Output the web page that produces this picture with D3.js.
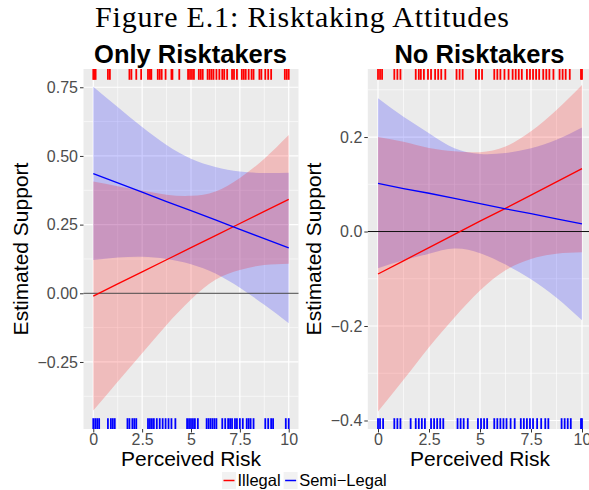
<!DOCTYPE html>
<html>
<head>
<meta charset="utf-8">
<script src="https://cdn.jsdelivr.net/npm/d3@7"></script>
<style>
  body { margin: 0; background: #fff; }
  svg { display: block; }
</style>
</head>
<body>
<svg id="chart" width="589" height="490"></svg>
<script>
var riskGrid = [0, 1.25, 2.5, 3.75, 5, 6.25, 7.5, 8.75, 10];

// Only Risktakers
var onlyIllegalFit  = [-0.010, 0.034, 0.078, 0.122, 0.166, 0.210, 0.254, 0.298, 0.342];
var onlyIllegalLow  = [-0.427, -0.322, -0.218, -0.115, -0.023, 0.049, 0.085, 0.103, 0.108];
var onlyIllegalHigh = [0.407, 0.390, 0.374, 0.359, 0.355, 0.371, 0.420, 0.490, 0.576];
var onlySemiFit  = [0.436, 0.402, 0.368, 0.334, 0.301, 0.267, 0.233, 0.199, 0.165];
var onlySemiLow  = [0.121, 0.130, 0.133, 0.125, 0.106, 0.072, 0.020, -0.042, -0.109];
var onlySemiHigh = [0.752, 0.678, 0.605, 0.540, 0.490, 0.460, 0.443, 0.438, 0.439];

// No Risktakers
var noIllegalFit  = [-0.090, -0.062, -0.034, -0.006, 0.022, 0.049, 0.077, 0.105, 0.133];
var noIllegalLow  = [-0.381, -0.314, -0.245, -0.182, -0.125, -0.082, -0.058, -0.047, -0.044];
var noIllegalHigh = [0.200, 0.190, 0.177, 0.170, 0.168, 0.180, 0.212, 0.257, 0.310];
var noSemiFit  = [0.102, 0.091, 0.081, 0.070, 0.059, 0.048, 0.038, 0.027, 0.016];
var noSemiLow  = [-0.078, -0.061, -0.047, -0.036, -0.046, -0.070, -0.101, -0.140, -0.188];
var noSemiHigh = [0.282, 0.243, 0.208, 0.176, 0.164, 0.166, 0.176, 0.194, 0.220];

// rug marks (observed perceived risk)
var onlyIllegalRug = [0, 0.05, 0.12, 0.75, 0.85, 1.85, 1.95, 2.2, 2.45, 2.8, 2.9, 2.97, 3.3, 3.4, 3.5, 3.7,
  4.0, 4.05, 4.4, 4.85, 4.95, 5.05, 5.15, 5.4, 5.5, 5.6, 5.85, 5.95, 6.05, 6.15, 6.3, 6.45, 6.6, 6.7, 6.85,
  7.1, 7.2, 7.35, 7.6, 7.7, 7.8, 7.95, 8.1, 8.2, 8.5, 8.6, 8.8, 8.95, 9.1, 9.8, 9.9, 10];
var onlySemiRug = [0, 0.1, 0.2, 0.3, 0.75, 0.9, 1.0, 1.1, 1.75, 1.85, 2.0, 2.1, 2.2, 2.8, 2.9, 3.0, 3.1, 3.25,
  3.4, 3.55, 3.7, 3.85, 4.0, 4.2, 4.8, 4.9, 5.0, 5.1, 5.2, 5.35, 5.8, 5.9, 6.0, 6.1, 6.2, 6.3, 6.6, 6.75,
  6.9, 7.0, 7.1, 7.25, 7.35, 7.5, 7.65, 7.85, 7.95, 8.05, 8.2, 8.8, 8.95, 9.1, 9.2, 9.85, 10];
var noIllegalRug = [0, 0.1, 0.2, 0.8, 0.95, 1.1, 1.85, 2.0, 2.1, 2.25, 2.45, 2.6, 2.8, 2.95, 3.1, 3.3,
  3.85, 4.0, 4.15, 4.8, 4.95, 5.1, 5.7, 5.85, 6.0, 6.2, 6.4, 6.6, 6.75, 6.9, 7.05, 7.3, 7.45, 7.6, 7.75,
  7.9, 8.1, 8.25, 8.4, 8.6, 8.9, 9.05, 9.2, 9.4, 9.95, 10];
var noSemiRug = [0, 0.1, 0.25, 0.8, 0.95, 1.1, 1.6, 1.85, 2.0, 2.15, 2.3, 2.6, 2.75, 2.9, 3.05, 3.2,
  3.9, 4.05, 4.2, 4.4, 4.9, 5.05, 5.2, 5.35, 5.7, 5.85, 6.0, 6.15, 6.3, 6.5, 6.7, 7.0, 7.15, 7.3, 7.45,
  7.6, 7.8, 8.0, 8.2, 8.35, 9.0, 9.15, 9.3, 9.45, 9.95, 10];

var xTicks = [0, 2.5, 5, 7.5, 10];
var xTickLabels = ["0", "2.5", "5", "7.5", "10"];
var onlyYTicks = [-0.25, 0, 0.25, 0.5, 0.75];
var onlyYTickLabels = ["\u22120.25", "0.00", "0.25", "0.50", "0.75"];
var noYTicks = [-0.4, -0.2, 0, 0.2];
var noYTickLabels = ["\u22120.4", "\u22120.2", "0.0", "0.2"];

var seriesNames = ["Illegal", "Semi\u2212Legal"];
var seriesColors = ["#ff0000", "#0000ff"];

var svg = d3.select("#chart");
svg.append("rect").attr("width", 589).attr("height", 490).attr("fill", "#fff");

// main title
svg.append("text")
  .attr("x", 302).attr("y", 27)
  .attr("text-anchor", "middle")
  .attr("textLength", 414).attr("lengthAdjust", "spacing")
  .style("font-family", "'Liberation Serif', serif")
  .style("font-size", "30px")
  .text("Figure E.1: Risktaking Attitudes");

var panels = [
  { title: "Only Risktakers", x0: 83.5, x1: 298.5, yDomain: [-0.494, 0.8165],
    yTicks: onlyYTicks, yLabels: onlyYTickLabels, yMinor: [-0.375, -0.125, 0.125, 0.375, 0.625],
    illFit: onlyIllegalFit, illLow: onlyIllegalLow, illHigh: onlyIllegalHigh,
    semiFit: onlySemiFit, semiLow: onlySemiLow, semiHigh: onlySemiHigh,
    illRug: onlyIllegalRug, semiRug: onlySemiRug, titleX: 28 },
  { title: "No Risktakers", x0: 367.8, x1: 592.2, yDomain: [-0.418, 0.344],
    yTicks: noYTicks, yLabels: noYTickLabels, yMinor: [-0.3, -0.1, 0.1, 0.3],
    illFit: noIllegalFit, illLow: noIllegalLow, illHigh: noIllegalHigh,
    semiFit: noSemiFit, semiLow: noSemiLow, semiHigh: noSemiHigh,
    illRug: noIllegalRug, semiRug: noSemiRug, titleX: 321 }
];

var panelTop = 69, panelBottom = 429;
var xMinor = [1.25, 3.75, 6.25, 8.75];

panels.forEach(function(p, k) {
  var x = d3.scaleLinear().domain([-0.5, 10.5]).range([p.x0, p.x1]);
  var y = d3.scaleLinear().domain(p.yDomain).range([panelBottom, panelTop]);
  var g = svg.append("g");

  g.append("rect")
    .attr("x", p.x0).attr("y", panelTop)
    .attr("width", p.x1 - p.x0).attr("height", panelBottom - panelTop)
    .attr("fill", "#ebebeb");

  // grid
  g.selectAll(".ymin").data(p.yMinor).enter().append("line")
    .attr("x1", p.x0).attr("x2", p.x1)
    .attr("y1", d => y(d)).attr("y2", d => y(d))
    .attr("stroke", "#fff").attr("stroke-width", 0.6);
  g.selectAll(".xmin").data(xMinor).enter().append("line")
    .attr("y1", panelTop).attr("y2", panelBottom)
    .attr("x1", d => x(d)).attr("x2", d => x(d))
    .attr("stroke", "#fff").attr("stroke-width", 0.6);
  g.selectAll(".ymaj").data(p.yTicks).enter().append("line")
    .attr("x1", p.x0).attr("x2", p.x1)
    .attr("y1", d => y(d)).attr("y2", d => y(d))
    .attr("stroke", "#fff").attr("stroke-width", 1.2);
  g.selectAll(".xmaj").data(xTicks).enter().append("line")
    .attr("y1", panelTop).attr("y2", panelBottom)
    .attr("x1", d => x(d)).attr("x2", d => x(d))
    .attr("stroke", "#fff").attr("stroke-width", 1.2);

  // ribbons
  var band = function(low, high) {
    return d3.area()
      .x((d, i) => x(riskGrid[i]))
      .y0((d, i) => y(low[i]))
      .y1((d, i) => y(high[i]))
      .curve(d3.curveNatural)(riskGrid);
  };
  g.append("path").attr("d", band(p.semiLow, p.semiHigh))
    .attr("fill", seriesColors[1]).attr("fill-opacity", 0.2);
  g.append("path").attr("d", band(p.illLow, p.illHigh))
    .attr("fill", seriesColors[0]).attr("fill-opacity", 0.2);

  // zero line
  g.append("line")
    .attr("x1", p.x0).attr("x2", p.x1)
    .attr("y1", y(0)).attr("y2", y(0))
    .attr("stroke", k == 0 ? "#444" : "#111").attr("stroke-width", 1);

  // fitted lines
  var line = d3.line().x((d, i) => x(riskGrid[i])).y(d => y(d));
  g.append("path").attr("d", line(p.illFit))
    .attr("fill", "none").attr("stroke", seriesColors[0]).attr("stroke-width", 1.3);
  g.append("path").attr("d", line(p.semiFit))
    .attr("fill", "none").attr("stroke", seriesColors[1]).attr("stroke-width", 1.3);

  // rugs
  var rugLen = (panelBottom - panelTop) * 0.03;
  g.selectAll(".rugTop").data(p.illRug).enter().append("line")
    .attr("x1", d => x(d)).attr("x2", d => x(d))
    .attr("y1", panelTop).attr("y2", panelTop + rugLen)
    .attr("stroke", seriesColors[0]).attr("stroke-width", 1.8);
  g.selectAll(".rugBot").data(p.semiRug).enter().append("line")
    .attr("x1", d => x(d)).attr("x2", d => x(d))
    .attr("y1", panelBottom - rugLen).attr("y2", panelBottom)
    .attr("stroke", seriesColors[1]).attr("stroke-width", 1.8);

  // axes
  var yAxis = d3.axisLeft(y).tickValues(p.yTicks)
    .tickFormat((d, i) => p.yLabels[i]).tickSize(3.5).tickPadding(2);
  var ya = g.append("g").attr("transform", "translate(" + p.x0 + ",0)").call(yAxis);
  var xAxis = d3.axisBottom(x).tickValues(xTicks)
    .tickFormat((d, i) => xTickLabels[i]).tickSize(3.5).tickPadding(1);
  var xa = g.append("g").attr("transform", "translate(0," + panelBottom + ")").call(xAxis);
  [ya, xa].forEach(function(a) {
    a.select(".domain").remove();
    a.selectAll(".tick line").attr("stroke", "#333");
    a.selectAll(".tick text")
      .attr("fill", "#4d4d4d")
      .style("font-family", "'Liberation Sans', Arial, sans-serif")
      .style("font-size", "16px");
  });

  // panel title
  g.append("text")
    .attr("x", (p.x0 + p.x1) / 2 - 0.5).attr("y", 62.5)
    .attr("text-anchor", "middle")
    .style("font-family", "'Liberation Sans', Arial, sans-serif")
    .style("font-weight", "bold")
    .style("font-size", "25.5px")
    .text(p.title);

  // axis titles
  g.append("text")
    .attr("x", (p.x0 + p.x1) / 2).attr("y", 465.5)
    .attr("text-anchor", "middle")
    .style("font-family", "'Liberation Sans', Arial, sans-serif")
    .style("font-size", "21px")
    .text("Perceived Risk");
  g.append("text")
    .attr("transform", "translate(" + p.titleX + "," + ((panelTop + panelBottom) / 2) + ") rotate(-90)")
    .attr("text-anchor", "middle")
    .style("font-family", "'Liberation Sans', Arial, sans-serif")
    .style("font-size", "21px")
    .text("Estimated Support");
});

// legend
var legend = svg.append("g").attr("transform", "translate(222,472)");
var lx = 0;
seriesNames.forEach(function(name, i) {
  var item = legend.append("g").attr("transform", "translate(" + lx + ",0)");
  item.append("rect").attr("width", 14).attr("height", 17).attr("fill", "#f2f2f2");
  item.append("line").attr("x1", 1.5).attr("x2", 12.5).attr("y1", 8.5).attr("y2", 8.5)
    .attr("stroke", seriesColors[i]).attr("stroke-width", 1.5);
  var t = item.append("text").attr("x", 15.5).attr("y", 13.5)
    .style("font-family", "'Liberation Sans', Arial, sans-serif")
    .style("font-size", "16.5px")
    .text(name);
  lx += 15.5 + t.node().getComputedTextLength() + 3;
});
</script>
</body>
</html>
